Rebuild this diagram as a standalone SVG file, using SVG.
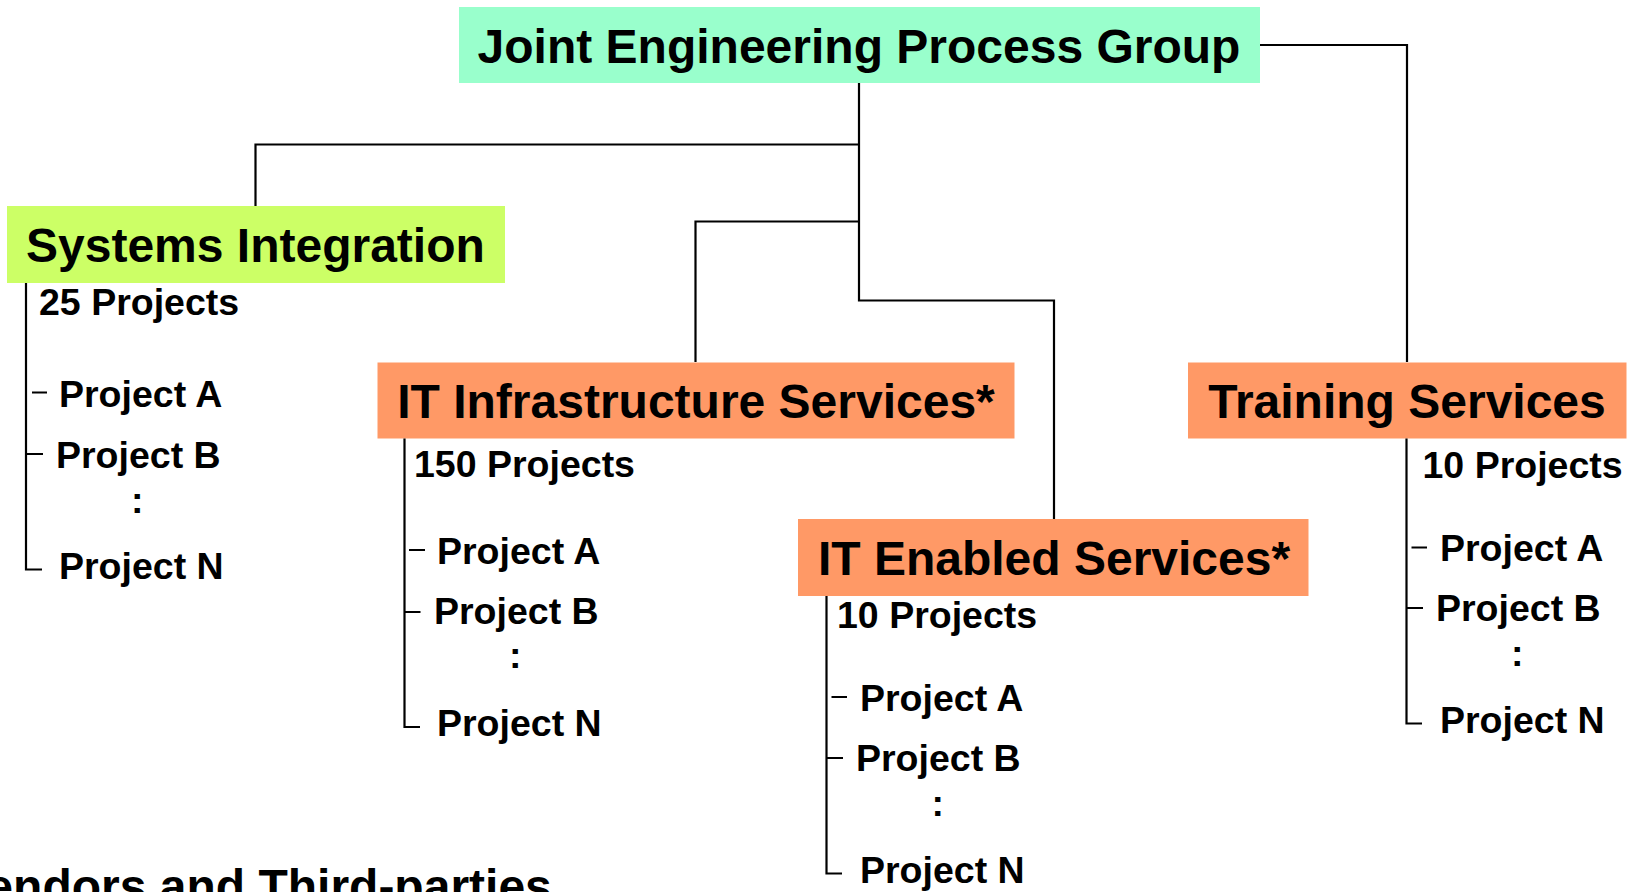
<svg xmlns="http://www.w3.org/2000/svg" width="1630" height="892" viewBox="0 0 1630 892">
<style>
.t{font-family:"Liberation Sans",Arial,sans-serif;font-weight:bold;fill:#000}
.h{font-size:48px}
.i{font-size:37.5px}
.ln{stroke:#000;stroke-width:2.2;fill:none}
</style>
<rect width="1630" height="892" fill="#fff"/>
<g id="connectors" class="ln">
<polyline points="859,83 859,300.5 1054,300.5 1054,519"/>
<polyline points="859,144.5 255.5,144.5 255.5,206"/>
<polyline points="859,221.5 695.5,221.5 695.5,362"/>
<polyline points="1260,45 1407,45 1407,362"/>
</g>
<g id="jepg">
<rect x="459" y="7" width="801" height="76" fill="#99FFCC"/>
<text class="t h" x="859" y="63" text-anchor="middle">Joint Engineering Process Group</text>
</g>
<g id="si">
<rect x="7" y="206" width="498" height="77" fill="#CCFF66"/>
<text class="t h" x="26" y="262">Systems Integration</text>
<path class="ln" d="M26,283 V569.5 H42 M32,392.5 H47 M26,454 H43"/>
<text class="t i" x="39" y="315">25 Projects</text>
<text class="t i" x="59" y="407">Project A</text>
<text class="t i" x="56" y="468">Project B</text>
<text class="t i" x="131" y="513">:</text>
<text class="t i" x="59" y="579">Project N</text>
</g>
<g id="itis">
<rect x="377.5" y="362.5" width="637" height="76" fill="#FF9966"/>
<text class="t h" x="696" y="418" text-anchor="middle">IT Infrastructure Services*</text>
<path class="ln" d="M404.5,438.5 V727 H420 M409,550 H425 M404.5,612 H420.5"/>
<text class="t i" x="414" y="477">150 Projects</text>
<text class="t i" x="437" y="563.5">Project A</text>
<text class="t i" x="434" y="624">Project B</text>
<text class="t i" x="509" y="668">:</text>
<text class="t i" x="437" y="736">Project N</text>
</g>
<g id="ites">
<rect x="798" y="519" width="510.5" height="77" fill="#FF9966"/>
<text class="t h" x="1054" y="575" text-anchor="middle">IT Enabled Services*</text>
<path class="ln" d="M826.5,596 V873.5 H842 M831.5,697 H847 M826.5,758 H843"/>
<text class="t i" x="837" y="628">10 Projects</text>
<text class="t i" x="860" y="711">Project A</text>
<text class="t i" x="856" y="771">Project B</text>
<text class="t i" x="931.5" y="816">:</text>
<text class="t i" x="860" y="883">Project N</text>
</g>
<g id="ts">
<rect x="1188" y="362.5" width="438.5" height="76" fill="#FF9966"/>
<text class="t h" x="1407" y="418" text-anchor="middle">Training Services</text>
<path class="ln" d="M1406.5,438.5 V723.5 H1422 M1411.5,547.5 H1427 M1406.5,608 H1423"/>
<text class="t i" x="1422.5" y="478">10 Projects</text>
<text class="t i" x="1440" y="561">Project A</text>
<text class="t i" x="1436" y="621">Project B</text>
<text class="t i" x="1511" y="666">:</text>
<text class="t i" x="1440" y="733">Project N</text>
</g>
<g id="vendors">
<text class="t h" x="-43" y="903">Vendors and Third-parties</text>
</g>
</svg>
